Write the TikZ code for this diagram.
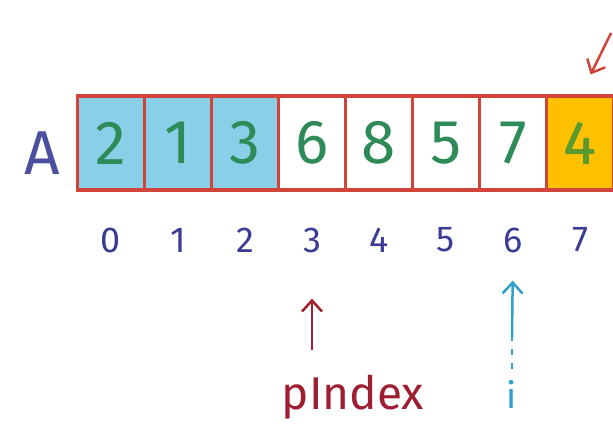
\documentclass[tikz,border=0pt]{standalone}
\usepackage{fontspec}
\setmainfont{Fira Sans}
\usetikzlibrary{arrows.meta, positioning}

\definecolor{cellred}{HTML}{D0443A}
\definecolor{cellblue}{HTML}{8ACFE8}
\definecolor{pivotorange}{HTML}{FFC000}
\definecolor{numgreen}{HTML}{2E8B57}
\definecolor{pivotgreen}{HTML}{5A9A2E}
\definecolor{idxblue}{HTML}{3C3C96}
\definecolor{ablue}{HTML}{4A4FA0}
\definecolor{pidxred}{HTML}{9E1E32}
\definecolor{iblue}{HTML}{2EA0CC}

\tikzset{
  cell/.style={draw=cellred, line width=3.5pt, minimum width=67pt, minimum height=94pt,
    inner sep=0pt, outer sep=0pt, text=numgreen, font=\fontsize{62}{62}\selectfont},
  idx/.style={text=idxblue, font=\fontsize{36}{36}\selectfont, inner sep=1pt},
  ptr/.style={-{Straight Barb[length=11pt, width=20pt]}, line width=2.5pt},
}

\begin{document}
\begin{tikzpicture}[x=1pt, y=-1pt]
\useasboundingbox (0,0) rectangle (613,424);
\clip (0,0) rectangle (613,424);

% array A
\node[text=ablue, font=\fontsize{62}{62}\selectfont] (arr) at (42,153) {A};
\foreach \v/\f [count=\i from 0] in {2/cellblue,1/cellblue,3/cellblue,6/white,8/white,5/white,7/white,4/pivotorange}
  \node[cell, fill=\f] (c\i) at (111+67*\i,143) {\v};
\node[text=pivotgreen, font=\fontsize{62}{62}\selectfont] at (c7) {4};

% indices
\foreach \i in {0,...,7}
  \node[idx] (n\i) at (111+67*\i,240) {\i};

% pointers
\node[text=pidxred, font=\fontsize{46}{46}\selectfont] (pidx) at (353,397) {pIndex};
\node[text=iblue, font=\fontsize{36}{36}\selectfont] (ivar) at (512,394) {i};
\coordinate (ibreak) at (512,337);
\coordinate (ptail) at (611,33);

\draw[ptr, pidxred, shorten <=21pt, shorten >=45pt] (pidx.north -| n3) -- (n3.south);
\draw[iblue, line width=2.5pt, dash pattern=on 6pt off 8pt, shorten <=7pt] (ivar.north) -- (ibreak);
\draw[ptr, iblue, shorten >=27pt] (ibreak) -- (n6.south);
\draw[ptr, cellred, shorten >=24pt] (ptail) -- (c7.north);
\end{tikzpicture}
\end{document}
